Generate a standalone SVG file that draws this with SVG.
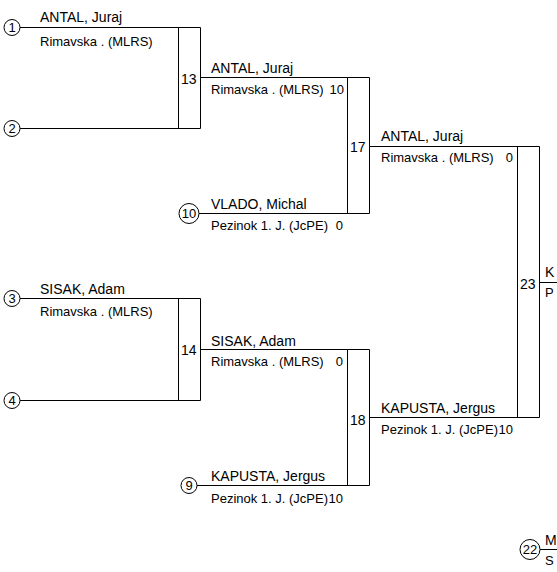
<svg xmlns="http://www.w3.org/2000/svg" width="557" height="572" viewBox="0 0 557 572">
<style>
text{font-family:"Liberation Sans",Arial,sans-serif;fill:#000}
.nm{font-size:14px}
.cl{font-size:13px}
.sc{font-size:13px}
.mn{font-size:14px}
.sd{font-size:13px;text-anchor:middle}
.ln{stroke:#000;stroke-width:1;fill:none}
circle{fill:#fff;stroke:#000;stroke-width:1}
</style>
<rect width="557" height="572" fill="#fff"/>
<g id="connectors" class="ln">
<path d="M20 27.5H200.5M20 128.5H200.5M178.5 27.5V128.5M200.5 27.5V128.5"/>
<path d="M20 298.5H200.5M20 400.5H200.5M178.5 298.5V400.5M200.5 298.5V400.5"/>
<path d="M200.5 77.5H369.5M199 213.5H369.5M347.5 77.5V213.5M369.5 77.5V213.5"/>
<path d="M200.5 349.5H369.5M197 485.5H369.5M347.5 349.5V485.5M369.5 349.5V485.5"/>
<path d="M369.5 146.5H539.5M369.5 417.5H539.5M517.5 146.5V417.5M539.5 146.5V417.5"/>
<path d="M539.5 282.5H557"/>
<path d="M540 549.5H557"/>
</g>
<g id="seed1"><circle cx="12" cy="27.5" r="8"/><text class="sd" x="12" y="32">1</text>
<text class="nm" x="40" y="22">ANTAL, Juraj</text><text class="cl" x="40" y="46">Rimavska . (MLRS)</text></g>
<g id="seed2"><circle cx="12" cy="128.5" r="8"/><text class="sd" x="12" y="133">2</text></g>
<g id="seed3"><circle cx="12" cy="298.5" r="8"/><text class="sd" x="12" y="303">3</text>
<text class="nm" x="40" y="294">SISAK, Adam</text><text class="cl" x="40" y="316">Rimavska . (MLRS)</text></g>
<g id="seed4"><circle cx="12" cy="400.5" r="8"/><text class="sd" x="12" y="405">4</text></g>
<g id="m13"><text class="mn" x="181" y="84">13</text>
<text class="nm" x="211" y="73">ANTAL, Juraj</text><text class="cl" x="211" y="94">Rimavska . (MLRS)</text><text class="sc" x="344" y="94" text-anchor="end">10</text></g>
<g id="seed10"><circle cx="189" cy="213.5" r="10"/><text class="sd" x="189" y="218">10</text>
<text class="nm" x="211" y="209">VLADO, Michal</text><text class="cl" x="211" y="230">Pezinok 1. J. (JcPE)</text><text class="sc" x="343" y="230" text-anchor="end">0</text></g>
<g id="m14"><text class="mn" x="181" y="355">14</text>
<text class="nm" x="211" y="346">SISAK, Adam</text><text class="cl" x="211" y="366">Rimavska . (MLRS)</text><text class="sc" x="343" y="366" text-anchor="end">0</text></g>
<g id="seed9"><circle cx="189" cy="485.5" r="8"/><text class="sd" x="189" y="490">9</text>
<text class="nm" x="211" y="481">KAPUSTA, Jergus</text><text class="cl" x="211" y="503">Pezinok 1. J. (JcPE)</text><text class="sc" x="343" y="503" text-anchor="end">10</text></g>
<g id="m17"><text class="mn" x="350" y="152">17</text>
<text class="nm" x="381" y="141">ANTAL, Juraj</text><text class="cl" x="381" y="162">Rimavska . (MLRS)</text><text class="sc" x="513" y="162" text-anchor="end">0</text></g>
<g id="m18"><text class="mn" x="350" y="425">18</text>
<text class="nm" x="381" y="413">KAPUSTA, Jergus</text><text class="cl" x="381" y="434">Pezinok 1. J. (JcPE)</text><text class="sc" x="513" y="434" text-anchor="end">10</text></g>
<g id="m23"><text class="mn" x="520" y="289">23</text>
<text class="nm" x="545" y="277">K</text><text class="cl" x="545" y="297">P</text></g>
<g id="seed22"><circle cx="530" cy="549.5" r="10"/><text class="sd" x="530" y="554">22</text>
<text class="nm" x="545" y="545">M</text><text class="cl" x="545" y="565">S</text></g>
</svg>
